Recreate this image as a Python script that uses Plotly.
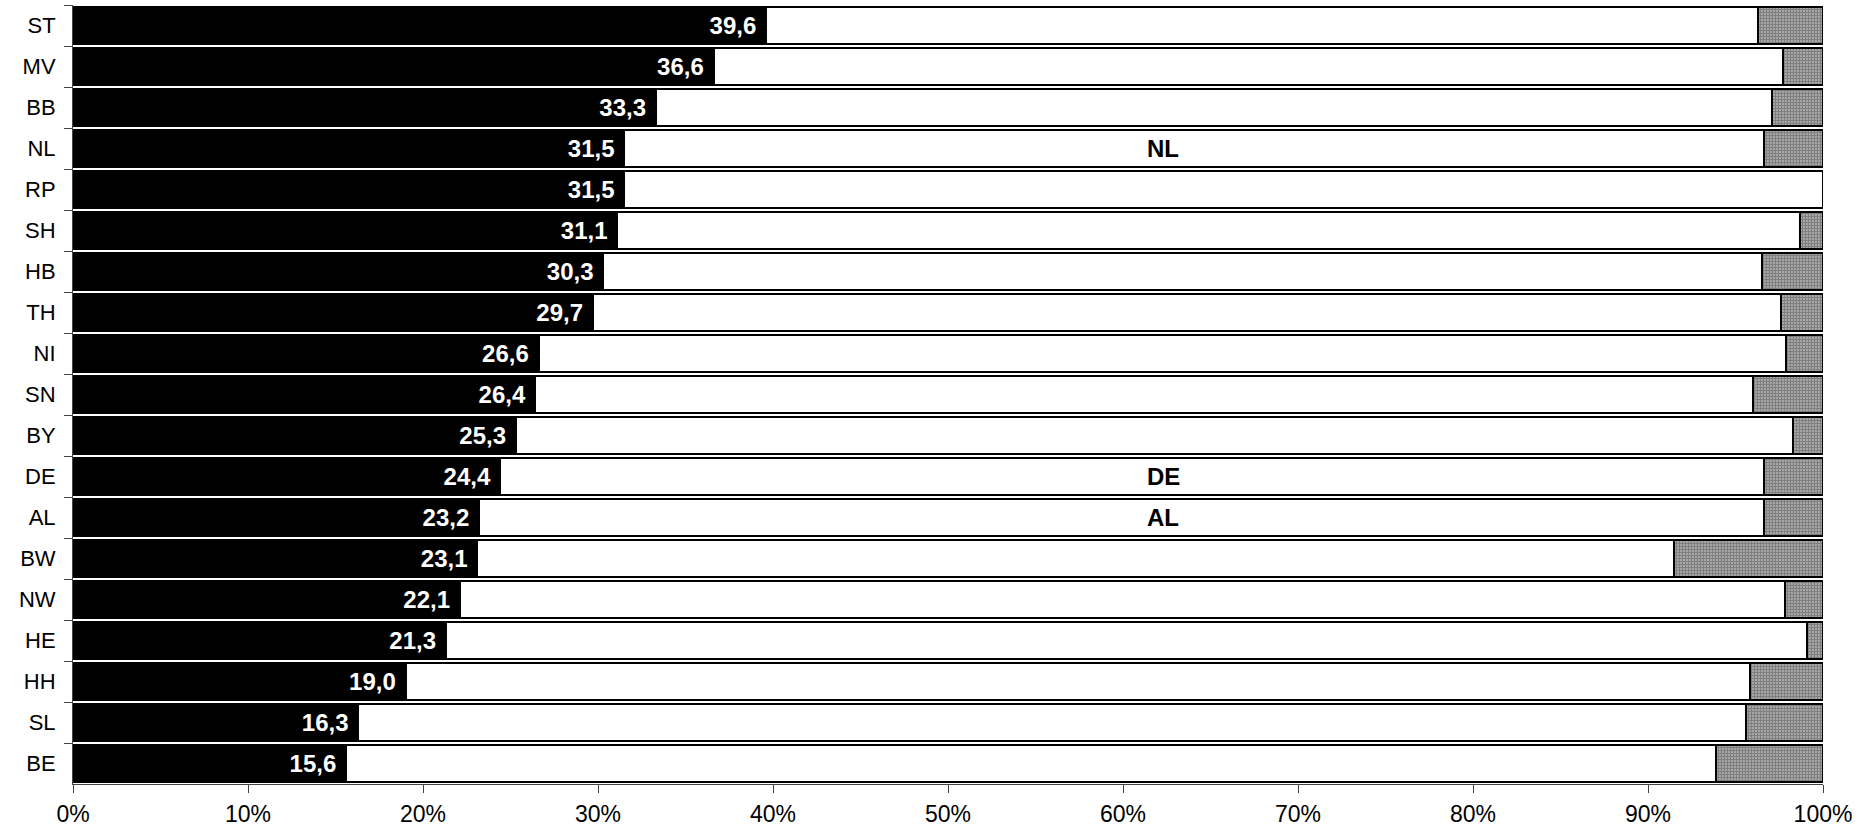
import plotly.graph_objects as go

# Bundesländer, top to bottom
regions = ["ST", "MV", "BB", "NL", "RP", "SH", "HB", "TH", "NI", "SN",
           "BY", "DE", "AL", "BW", "NW", "HE", "HH", "SL", "BE"]

# share in the first group (%)
share_main = [39.6, 36.6, 33.3, 31.5, 31.5, 31.1, 30.3, 29.7, 26.6, 26.4,
              25.3, 24.4, 23.2, 23.1, 22.1, 21.3, 19.0, 16.3, 15.6]
# share in the second group (%)
share_rest = [56.7, 61.1, 63.8, 65.1, 68.5, 67.6, 66.2, 67.9, 71.3, 69.6,
              73.0, 72.2, 73.4, 68.4, 75.7, 77.8, 76.8, 79.3, 78.3]
# share without information (%)
share_na = [3.7, 2.3, 2.9, 3.4, 0.0, 1.3, 3.5, 2.4, 2.1, 4.0,
            1.7, 3.4, 3.4, 8.5, 2.2, 0.9, 4.2, 4.4, 6.1]

# rows that carry an extra name label in the middle
highlight = ["NL", "DE", "AL"]

FONT = "Liberation Sans, Arial, sans-serif"
labels = [f"{v:.1f}".replace(".", ",") + "\u00a0" for v in share_main]

fig = go.Figure()
fig.add_trace(go.Bar(
    y=regions, x=share_main, orientation="h",
    marker=dict(color="black", line=dict(color="black", width=2)),
    text=labels, textposition="inside", insidetextanchor="end",
    textfont=dict(family=FONT, size=24, color="white", weight="bold"),
    cliponaxis=False, showlegend=False,
))
fig.add_trace(go.Bar(
    y=regions, x=share_rest, orientation="h",
    marker=dict(color="white", line=dict(color="black", width=2)),
    showlegend=False,
))
fig.add_trace(go.Bar(
    y=regions, x=share_na, orientation="h",
    marker=dict(color="white", line=dict(color="black", width=2),
                pattern=dict(shape=".", fgcolor="black", bgcolor="white",
                             size=3, solidity=0.8, fillmode="overlay")),
    showlegend=False,
))

for r in highlight:
    fig.add_annotation(x=62.3, y=r, text=f"<b>{r}</b>", showarrow=False,
                       font=dict(family=FONT, size=24, color="black"),
                       xref="x", yref="y")

fig.update_layout(
    barmode="stack", bargap=0.1,
    width=1874, height=832,
    margin=dict(l=73, r=51, t=5, b=48),
    plot_bgcolor="white", paper_bgcolor="white",
    font=dict(family=FONT, size=22, color="black"),
)
fig.update_xaxes(range=[0, 100], dtick=10, ticksuffix="%", showgrid=False,
                 zeroline=False, showline=True, linecolor="#444", linewidth=1,
                 ticks="outside", ticklen=8, tickcolor="#444",
                 ticklabelstandoff=1, automargin=False,
                 tickfont=dict(family=FONT, size=23, color="black"))
fig.update_yaxes(categoryorder="array", categoryarray=regions,
                 autorange="reversed", showgrid=False, zeroline=False,
                 showline=True, linecolor="#444", linewidth=1,
                 ticks="outside", ticklen=8, tickcolor="#444",
                 tickson="boundaries", ticklabelstandoff=12, automargin=False,
                 tickfont=dict(family=FONT, size=22, color="black"))

fig.write_html("out.html")
